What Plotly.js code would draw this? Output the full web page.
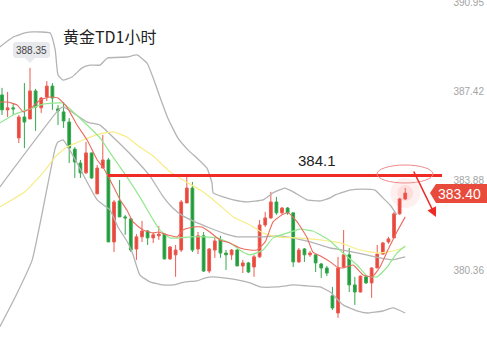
<!DOCTYPE html>
<html>
<head>
<meta charset="utf-8">
<script src="https://cdn.plot.ly/plotly-3.0.1.min.js"></script>
<style>html,body{margin:0;padding:0;background:#fff;}#chart{width:487px;height:355px;}</style>
</head>
<body>
<div id="chart"></div>
<script>
// ---- data ----
const candleIdx = [1,2,3,4,5,6,7,8,9,10,11,12,13,14,15,16,17,18,19,20,21,22,23,24,25,26,27,28,29,30,31,32,33,34,35,36,37,38,39,40,41,42,43,44,45,46,47,48,49,50,51,52,53,54,55,56,57,58,59,60,61,62,63,64,65,66,67,68,69,70,71,72,73];
const opens  = [387.28,386.69,386.77,385.58,386.41,386.33,387.44,386.77,387.20,387.63,386.73,386.61,386.21,385.14,384.59,384.20,384.99,383.37,384.39,384.71,381.47,383.09,382.46,382.38,381.19,381.67,381.90,381.63,381.71,381.78,380.80,380.96,381.15,383.01,383.60,381.19,381.71,380.32,381.15,381.55,381.03,380.96,381.15,380.52,380.64,380.48,380.88,382.14,382.42,383.05,382.62,382.81,382.62,380.68,381.19,380.96,380.96,380.60,380.44,379.34,378.66,380.48,380.96,379.77,379.49,380.09,379.85,380.44,380.99,381.47,381.63,382.58,383.17];
const highs  = [387.56,387.40,386.96,386.49,387.75,388.35,387.52,387.20,387.83,387.75,386.88,387.00,386.37,385.22,384.71,385.42,384.99,384.51,385.70,384.79,383.13,383.92,382.54,382.42,381.78,382.30,381.94,381.86,382.10,381.80,381.30,381.35,383.13,384.16,383.84,381.86,381.86,381.23,381.67,381.71,381.15,381.19,381.19,380.76,380.68,380.96,382.34,382.66,383.45,383.25,382.85,382.85,382.62,381.23,381.23,381.11,380.96,380.64,380.52,379.69,380.88,381.94,381.23,380.09,380.14,380.12,380.46,381.35,381.47,381.67,382.66,383.21,383.60];
const lows   = [386.49,386.41,386.49,385.38,385.18,386.33,385.86,386.57,387.04,386.69,386.09,385.98,384.59,384.00,384.00,384.16,383.96,383.37,384.39,381.47,381.07,382.46,381.75,381.07,380.76,381.47,381.35,381.43,381.55,380.78,380.76,380.09,381.07,383.01,381.07,380.99,380.28,380.24,380.84,380.84,380.36,380.76,380.52,380.24,380.24,380.09,380.84,382.06,382.38,382.54,382.54,382.54,380.48,380.64,380.68,380.88,380.28,380.05,380.12,378.78,378.47,380.44,379.49,378.98,379.47,379.81,379.26,380.44,380.96,381.40,381.63,382.54,383.13];
const closes = [386.69,386.77,386.73,386.41,386.21,387.44,386.80,387.16,387.63,387.16,386.65,386.25,385.18,384.63,384.20,384.99,384.00,384.39,384.71,381.47,383.05,382.46,382.42,381.15,381.67,381.90,381.63,381.75,381.78,380.80,381.27,381.15,383.05,383.60,381.15,381.71,380.32,381.19,381.51,381.03,380.96,381.15,380.52,380.64,380.28,380.88,382.14,382.42,383.05,382.62,382.81,382.62,380.68,381.15,380.96,381.03,380.64,380.44,380.24,378.86,380.44,380.96,379.77,379.49,380.12,379.85,380.44,380.99,381.43,381.59,382.58,383.17,383.40];

// Bollinger bands
const bbUpX = [0.6,3.0,5.1,6.5,9.6,10.5,11.0,11.9,13.5,15.3,16.7,18.5,19.8,23.3,25.1,26.9,28.0,29.2,30.6,32.4,34.2,35.8,37.6,38.5,38.7,40.5,42.3,44.8,47.6,49.4,51.5,53.0,55.5,57.8,59.6,60.5,63.1,65.5,67.6,69.0,70.3,71.5];
const bbUpY = [389.18,389.57,389.73,389.77,389.73,389.06,388.07,387.87,387.99,388.35,388.46,388.46,388.74,388.78,388.86,388.54,387.95,387.20,386.37,385.58,385.11,384.79,384.39,383.80,383.41,383.25,383.13,383.05,383.13,383.41,383.60,383.45,383.13,383.09,383.21,383.33,383.52,383.56,383.52,383.21,382.93,382.54];
const bbMidX = [0.6,10.8,11.9,16.2,18.5,20.8,24.4,27.4,29.8,31.5,33.3,35.1,38.1,40.5,43.0,45.3,47.6,50.1,52.9,56.0,59.6,61.9,64.6,67.6,70.6,73.0];
const bbMidY = [383.64,386.61,386.81,386.21,386.09,385.62,384.83,384.08,383.25,382.81,382.50,382.30,382.02,381.82,381.67,381.67,381.67,381.71,381.63,381.47,381.23,381.15,381.03,380.88,380.76,380.88];
const bbLowX = [0.6,3.3,6.4,10.5,11.0,11.9,12.8,14.4,18.0,20.3,21.7,23.5,24.4,25.6,27.4,29.8,31.5,33.7,35.8,37.3,38.7,40.5,43.0,45.3,47.1,50.1,53.0,55.5,57.8,59.6,61.9,64.4,66.2,69.0,70.8,73.0];
const bbLowY = [378.11,379.26,380.76,385.18,385.42,385.50,385.22,384.59,383.13,382.73,382.06,381.43,380.96,380.17,379.89,379.77,379.77,379.89,379.93,380.05,380.09,380.05,379.97,379.85,379.69,379.69,379.77,379.73,379.69,379.49,378.98,378.74,378.66,378.74,378.86,378.66];

// moving averages
const maYellowX = [0.6,5.1,8.3,10.5,12.6,15.5,18.5,20.8,23.3,25.6,28.0,31.0,33.3,36.4,39.4,42.3,45.3,47.6,50.1,53.7,57.8,61.4,64.9,68.5,71.5,73.0];
const maYellowY = [382.85,383.45,384.20,384.83,385.22,385.50,385.74,385.82,385.62,385.22,384.87,384.24,383.92,383.52,383.01,382.46,382.14,381.82,381.67,381.63,381.55,381.43,381.15,381.03,381.15,381.27];
const maGreenX = [0.6,3.0,5.5,8.3,10.1,11.9,13.7,16.2,18.5,20.8,23.3,25.6,28.0,29.2,31.0,32.8,34.6,36.9,39.4,41.7,44.0,45.3,47.6,49.4,51.9,54.2,56.5,57.8,59.6,61.9,64.4,66.2,68.0,69.8,71.5,73.0];
const maGreenY = [386.17,386.49,386.69,386.92,386.96,386.96,386.61,386.09,385.58,384.83,384.04,383.25,382.34,381.94,381.63,381.63,381.67,381.67,381.63,381.43,381.07,380.96,381.15,381.63,381.82,381.98,381.90,381.75,381.51,381.03,380.56,380.12,380.09,380.48,381.03,381.31];
const maRedX = [0.6,2.1,3.7,4.8,6.4,7.8,9.6,11.0,12.6,14.4,16.2,18.0,19.0,20.3,22.1,23.3,24.4,26.2,28.0,28.9,30.5,32.3,33.3,35.1,36.7,38.1,39.9,41.7,43.5,45.3,46.5,48.0,49.4,51.0,52.1,53.7,55.5,56.5,57.8,59.6,60.8,61.9,63.7,65.5,67.1,68.5,69.9,71.5,73.0];
const maRedY = [387.00,387.00,386.88,386.61,386.80,387.08,387.20,387.16,386.80,386.09,385.50,384.71,384.43,383.92,383.13,382.73,382.26,381.94,381.82,381.86,381.75,381.67,381.94,382.06,382.06,381.86,381.55,381.43,381.23,381.15,381.15,381.47,382.26,382.54,382.62,382.26,381.63,381.07,380.92,380.68,380.48,380.44,380.56,380.16,380.09,380.48,381.15,381.86,382.46];

// axis ticks / labels
const tickVals = [380.36, 383.88, 387.42, 390.95];
const tickText = ['380.36', '383.88', '387.42', '390.95'];
const resistance = 384.1;
const lastPrice = 383.40;
const peakLabel = '388.35';
const titleText = '黄金TD1小时';

// ---- layout helpers (pixel -> paper) ----
const W = 487, H = 355;
const px = x => x / W;
const py = y => 1 - y / H;
function pathPx(pts) {
  return 'M' + pts.map(p => px(p[0]).toFixed(5) + ',' + py(p[1]).toFixed(5)).join(' L') + ' Z';
}

const lineTrace = (x, y, color, width) => ({
  type: 'scatter', mode: 'lines', x: x, y: y,
  line: {color: color, width: width, shape: 'spline', smoothing: 0.4},
  hoverinfo: 'skip', showlegend: false
});

const traces = [
  lineTrace(bbUpX, bbUpY, '#b4b4b4', 1.3),
  lineTrace(bbMidX, bbMidY, '#b4b4b4', 1.3),
  lineTrace(bbLowX, bbLowY, '#b4b4b4', 1.3),
  lineTrace(maYellowX, maYellowY, '#f7ec86', 1.2),
  lineTrace(maGreenX, maGreenY, '#92e88e', 1.2),
  lineTrace(maRedX, maRedY, '#ec6a5e', 1.1),
  {
    type: 'scatter', mode: 'markers',
    x: [candleIdx[candleIdx.length - 1], candleIdx[candleIdx.length - 1]],
    y: [closes[closes.length - 1], closes[closes.length - 1]],
    marker: {size: [30, 16], color: ['rgba(255,90,90,0.13)', 'rgba(255,90,90,0.18)'], line: {width: 0}},
    hoverinfo: 'skip', showlegend: false
  },
  {
    type: 'candlestick', x: candleIdx, open: opens, high: highs, low: lows, close: closes,
    increasing: {line: {color: '#ec5b50', width: 1}, fillcolor: '#e8473b'},
    decreasing: {line: {color: '#35a84c', width: 1}, fillcolor: '#1f9a3a'},
    whiskerwidth: 0, hoverinfo: 'skip', showlegend: false
  }
];

const layout = {
  width: W, height: H,
  margin: {l: 0, r: 0, t: 0, b: 0, pad: 0},
  paper_bgcolor: '#ffffff', plot_bgcolor: '#ffffff',
  showlegend: false,
  xaxis: {range: [0.643, 87.6], visible: false, rangeslider: {visible: false}, fixedrange: true},
  yaxis: {
    range: [377.0, 391.034], side: 'right', showgrid: false, zeroline: false, showline: false,
    tickmode: 'array', tickvals: tickVals, ticktext: tickText,
    ticklabelposition: 'inside', ticklabeloverflow: 'allow', ticks: '',
    tickfont: {family: 'Liberation Sans, Arial, sans-serif', size: 10, color: '#a4a4a4'},
    fixedrange: true
  },
  shapes: [
    {type: 'line', xref: 'paper', yref: 'y', x0: px(108), x1: px(442), y0: resistance, y1: resistance,
     line: {color: '#ee2b25', width: 3}},
    {type: 'circle', xref: 'paper', yref: 'paper', x0: px(377), x1: px(433), y0: py(183), y1: py(165),
     line: {color: '#f08a8a', width: 1}},
    {type: 'path', xref: 'paper', yref: 'paper',
     path: pathPx([[430,193],[436,184],[487,184],[487,203],[436,203]]),
     fillcolor: '#e84a3c', line: {width: 0}},
    {type: 'path', xref: 'paper', yref: 'paper',
     path: pathPx([[15,42],[48,42],[50,44],[50,56],[48,58],[35,58],[30,63],[25,58],[15,58],[13,56],[13,44]]),
     fillcolor: '#e7e9ec', line: {width: 0}}
  ],
  annotations: [
    {xref: 'paper', yref: 'paper', x: px(61), y: py(36), xanchor: 'left', yanchor: 'middle', showarrow: false,
     text: titleText, font: {family: 'Noto Sans CJK SC, sans-serif', size: 16, color: '#222222'}},
    {xref: 'paper', yref: 'paper', x: px(31.5), y: py(50), xanchor: 'center', yanchor: 'middle', showarrow: false,
     text: peakLabel, font: {family: 'Liberation Sans, Arial, sans-serif', size: 10, color: '#444444'}},
    {xref: 'paper', yref: 'paper', x: px(317), y: py(160), xanchor: 'center', yanchor: 'middle', showarrow: false,
     text: String(resistance), font: {family: 'Liberation Sans, Arial, sans-serif', size: 15, color: '#222222'}},
    {xref: 'paper', yref: 'paper', x: px(459), y: py(193.5), xanchor: 'center', yanchor: 'middle', showarrow: false,
     text: lastPrice.toFixed(2), font: {family: 'Liberation Sans, Arial, sans-serif', size: 14, color: '#ffffff'}},
    {xref: 'paper', yref: 'paper', x: px(436), y: py(217), showarrow: true, text: '',
     axref: 'pixel', ayref: 'pixel', ax: -23, ay: -47,
     arrowcolor: '#ee2b25', arrowwidth: 1.6, arrowhead: 2, arrowsize: 1.2}
  ]
};

Plotly.newPlot('chart', traces, layout, {displayModeBar: false, staticPlot: true});
</script>
</body>
</html>
